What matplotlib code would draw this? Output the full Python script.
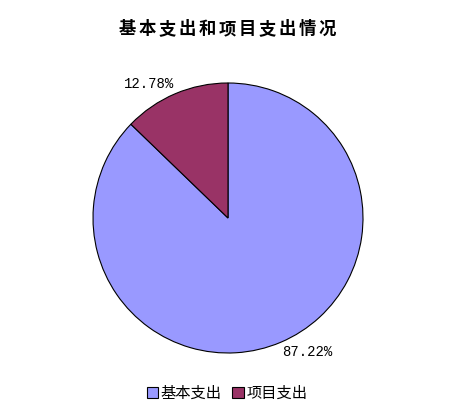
import numpy as np
import matplotlib
matplotlib.use("Agg")
import matplotlib.pyplot as plt
from matplotlib.patches import Patch

# data
categories = ["基本支出", "项目支出"]
values = [87.22, 12.78]
colors = ["#9999FF", "#993366"]
title = "基本支出和项目支出情况"

plt.rcParams['font.family'] = ['Noto Sans CJK SC', 'DejaVu Sans']

W, H = 454, 415
fig = plt.figure(figsize=(W / 100, H / 100), dpi=100)

# pie centre (228, 218) px, radius 135 px
cx, cy, r = 228, 218, 135
ax = fig.add_axes([(cx - r) / W, (H - cy - r) / H, 2 * r / W, 2 * r / H])
wedges, _ = ax.pie(values, colors=colors, startangle=90, counterclock=False,
                   radius=1.0,
                   wedgeprops=dict(edgecolor="black", linewidth=0.8))
ax.set_xlim(-1, 1)
ax.set_ylim(-1, 1)
ax.set_aspect("equal")
ax.axis("off")

# labels at outside end, corner touching the slice mid-angle
for w, v in zip(wedges, values):
    ang = np.deg2rad((w.theta1 + w.theta2) / 2)
    x, y = 1.02 * np.cos(ang), 1.02 * np.sin(ang)
    ha = "left" if x > 0 else "right"
    va = "top" if y < 0 else "bottom"
    ax.text(x, y, "%.2f%%" % v, ha=ha, va=va, fontsize=10,
            family="Liberation Mono", clip_on=False)

# title is letter-spaced, so lay out one character at a time
pitch = 20.0
x0 = 227.5 - pitch * (len(title) - 1) / 2
for i, ch in enumerate(title):
    fig.text((x0 + i * pitch) / W, 1 - 29 / H, ch, ha="center", va="center",
             fontsize=12.5, fontweight="bold")

handles = [Patch(facecolor=c, edgecolor="black", linewidth=0.8) for c in colors]
fig.legend(handles, categories, loc="center", bbox_to_anchor=(0.5, (H - 393) / H),
           ncol=2, frameon=False, fontsize=11, handlelength=0.75,
           handleheight=0.75, handletextpad=0.15, columnspacing=0.7)

fig.savefig("out.png", dpi=100)
